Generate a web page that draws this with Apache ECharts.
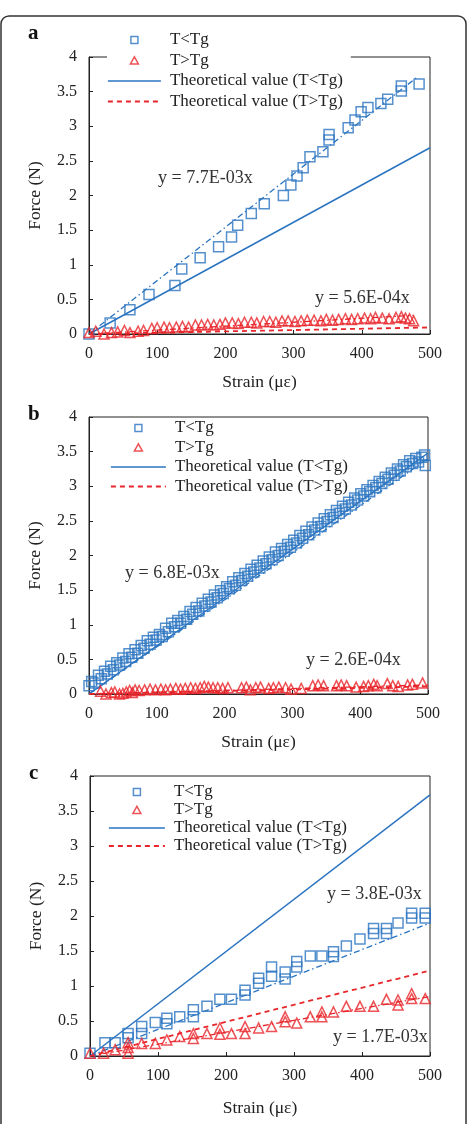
<!DOCTYPE html>
<html>
<head>
<meta charset="utf-8">
<script src="https://cdn.jsdelivr.net/npm/echarts@6/dist/echarts.min.js"></script>
<style>
  html, body { margin: 0; padding: 0; background: #fff; }
  #chart { width: 471px; height: 1124px; }
</style>
</head>
<body>
<div id="chart"></div>
<script>
// panel a
const aBelow = [[0,0],[31,0.16],[60,0.35],[88,0.57],[126,0.70],[136,0.94],[163,1.10],[190,1.26],[209,1.40],[218,1.57],[238,1.74],[257,1.88],[285,2.00],[296,2.15],[305,2.28],[314,2.40],[324,2.56],[343,2.63],[352,2.80],[352,2.88],[380,2.98],[390,3.09],[399,3.21],[409,3.27],[428,3.33],[438,3.39],[458,3.51],[458,3.58],[484,3.61]];
const aAbove = [[0,0.02],[10,0.04],[22,0.0],[33,0.02],[42,0.03],[52,0.05],[60,0.02],[72,0.04],[80,0.05],[92,0.08],[100,0.09],[110,0.10],[118,0.09],[128,0.10],[137,0.11],[146,0.10],[156,0.13],[165,0.13],[174,0.14],[183,0.13],[192,0.14],[200,0.16],[210,0.16],[219,0.15],[228,0.17],[238,0.17],[246,0.16],[256,0.18],[265,0.18],[274,0.17],[283,0.19],[292,0.19],[302,0.18],[311,0.19],[320,0.20],[330,0.20],[340,0.19],[348,0.21],[357,0.20],[366,0.21],[376,0.22],[385,0.21],[394,0.22],[404,0.23],[413,0.22],[420,0.24],[430,0.23],[440,0.22],[450,0.24],[458,0.25],[464,0.23],[470,0.22],[476,0.19]];
const aTheoBelow = [[0,0],[500,2.69]];
const aTheoAbove = [[0,0],[500,0.095]];
const aFitBelow = [[0,0],[480,3.70]];
const aFitAbove = [[0,0],[476,0.27]];

// panel b
const bBelow = [[0,0.12],[4,0.18],[9,0.16],[14,0.27],[18,0.22],[23,0.33],[27,0.29],[32,0.40],[36,0.35],[41,0.45],[45,0.42],[50,0.52],[54,0.47],[59,0.58],[63,0.53],[68,0.64],[72,0.59],[77,0.70],[81,0.66],[86,0.77],[90,0.72],[95,0.82],[99,0.78],[104,0.86],[108,0.83],[113,0.95],[117,0.90],[122,1.02],[126,0.97],[131,1.06],[135,1.02],[140,1.12],[144,1.08],[149,1.19],[153,1.15],[158,1.25],[162,1.20],[167,1.31],[171,1.27],[176,1.37],[180,1.33],[185,1.43],[189,1.39],[194,1.49],[198,1.45],[203,1.55],[207,1.52],[212,1.62],[216,1.57],[221,1.68],[225,1.64],[230,1.74],[234,1.70],[239,1.80],[243,1.76],[248,1.86],[252,1.82],[257,1.92],[261,1.88],[266,1.98],[270,1.94],[275,2.05],[279,2.00],[284,2.10],[288,2.06],[293,2.16],[297,2.12],[302,2.22],[306,2.18],[311,2.29],[315,2.25],[320,2.35],[324,2.30],[329,2.41],[333,2.37],[338,2.47],[342,2.42],[347,2.53],[351,2.49],[356,2.59],[360,2.55],[365,2.65],[369,2.61],[374,2.71],[378,2.67],[383,2.77],[387,2.73],[392,2.83],[396,2.80],[401,2.89],[405,2.86],[410,2.95],[414,2.92],[419,3.01],[423,2.98],[428,3.07],[432,3.04],[437,3.13],[441,3.10],[446,3.19],[450,3.16],[455,3.25],[459,3.22],[464,3.31],[468,3.28],[473,3.37],[477,3.33],[482,3.40],[486,3.35],[491,3.42],[495,3.45],[496,3.30]];
const bAbove = [[17,0.04],[25,0.0],[33,0.02],[38,0.03],[45,0.0],[50,0.01],[55,0.03],[60,0.05],[64,0.02],[68,0.06],[74,0.05],[82,0.06],[90,0.07],[98,0.06],[106,0.07],[113,0.06],[120,0.07],[128,0.08],[135,0.07],[142,0.08],[150,0.09],[157,0.08],[164,0.09],[170,0.11],[176,0.10],[183,0.09],[190,0.09],[197,0.08],[205,0.09],[225,0.09],[232,0.10],[238,0.06],[246,0.09],[253,0.10],[265,0.08],[272,0.09],[280,0.10],[290,0.09],[298,0.07],[313,0.08],[330,0.12],[338,0.13],[346,0.12],[365,0.12],[372,0.13],[380,0.12],[394,0.10],[405,0.11],[412,0.12],[420,0.14],[425,0.12],[440,0.15],[448,0.12],[456,0.11],[470,0.13],[477,0.14],[492,0.16]];
const bTheoBelow = [[0,0],[500,3.48]];
const bTheoAbove = [[0,0],[500,0.11]];
const bFitBelow = [[0,0],[500,3.40]];
const bFitAbove = [[0,0],[500,0.13]];

// panel c
const cBelow = [[0,0.04],[22,0.19],[37,0.19],[56,0.32],[56,0.26],[76,0.42],[76,0.32],[96,0.48],[113,0.54],[113,0.46],[132,0.56],[152,0.66],[152,0.56],[172,0.71],[191,0.81],[208,0.81],[228,0.94],[228,0.87],[248,1.11],[248,1.04],[267,1.27],[267,1.14],[287,1.20],[287,1.10],[304,1.35],[304,1.27],[324,1.43],[341,1.43],[358,1.49],[358,1.42],[377,1.57],[397,1.67],[417,1.82],[417,1.75],[436,1.82],[436,1.75],[453,1.90],[473,2.04],[473,1.97],[493,2.04],[493,1.97]];
const cAbove = [[0,0.04],[20,0.04],[37,0.09],[56,0.12],[56,0.19],[56,0.04],[76,0.18],[96,0.18],[113,0.23],[132,0.28],[152,0.25],[152,0.32],[172,0.32],[191,0.40],[191,0.31],[208,0.32],[228,0.42],[228,0.32],[248,0.40],[267,0.42],[287,0.56],[287,0.49],[304,0.47],[324,0.56],[341,0.63],[341,0.56],[358,0.63],[377,0.71],[397,0.71],[417,0.71],[436,0.81],[453,0.73],[453,0.80],[473,0.89],[473,0.82],[493,0.82]];
const cTheoBelow = [[0,0],[500,3.73]];
const cTheoAbove = [[0,0],[500,1.22]];
const cFitBelow = [[0,0],[500,1.90]];
const cFitAbove = [[0,0],[500,0.85]];

const xTicks = [0, 100, 200, 300, 400, 500];
const yTicks = [0, 0.5, 1, 1.5, 2, 2.5, 3, 3.5, 4];
const legendNames = ['T<Tg', 'T>Tg', 'Theoretical value (T<Tg)', 'Theoretical value (T>Tg)'];

const BLUE = '#2b74c0';
const RED = '#e8262b';
const INK = '#222';
const FONT = '"Liberation Serif", "DejaVu Serif", serif';

const panels = [
  { below: aBelow, above: aAbove, theoBelow: aTheoBelow, theoAbove: aTheoAbove, fitBelow: aFitBelow, fitAbove: aFitAbove },
  { below: bBelow, above: bAbove, theoBelow: bTheoBelow, theoAbove: bTheoAbove, fitBelow: bFitBelow, fitAbove: bFitAbove },
  { below: cBelow, above: cAbove, theoBelow: cTheoBelow, theoAbove: cTheoAbove, fitBelow: cFitBelow, fitAbove: cFitAbove }
];

const grids = [
  { left: 89, top: 57, width: 341, height: 277 },
  { left: 89, top: 417, width: 339, height: 277 },
  { left: 90, top: 776, width: 340, height: 280 }
];

const legendPos = [
  { left: 107, top: 29.5, itemWidth: 53, itemGap: 3.5, backgroundColor: '#fff', padding: [2, 8, 2, 0] },
  { left: 110, top: 419.5, itemWidth: 55, itemGap: 2.5, backgroundColor: 'transparent', padding: 0 },
  { left: 108, top: 783.5, itemWidth: 56, itemGap: 1, backgroundColor: 'transparent', padding: 0 }
];

const xNameGaps = [39, 39, 43];

const lineSeries = (name, data, idx, color, type, width) => ({
  name,
  type: 'line',
  data,
  xAxisIndex: idx,
  yAxisIndex: idx,
  symbol: 'none',
  showSymbol: false,
  silent: true,
  lineStyle: { color, width, type },
  itemStyle: { color: 'transparent', borderWidth: 0 },
  z: 2
});

const series = [];
panels.forEach((p, idx) => {
  series.push(lineSeries('Theoretical value (T<Tg)', p.theoBelow, idx, BLUE, 'solid', 1.5));
  series.push(lineSeries('Theoretical value (T>Tg)', p.theoAbove, idx, RED, [5, 4], 1.8));
  series.push(lineSeries('fitBelow' + idx, p.fitBelow, idx, BLUE, [6, 3, 1.5, 3], 1.3));
  series.push(lineSeries('fitAbove' + idx, p.fitAbove, idx, RED, [6, 3, 1.5, 3], 1.3));
  series.push({
    name: 'T<Tg', type: 'scatter', data: p.below, xAxisIndex: idx, yAxisIndex: idx,
    symbol: 'rect', symbolSize: 10, clip: false,
    itemStyle: { color: 'transparent', borderColor: BLUE, borderWidth: 1.5 }, z: 3
  });
  series.push({
    name: 'T>Tg', type: 'scatter', data: p.above, xAxisIndex: idx, yAxisIndex: idx,
    symbol: 'triangle', symbolSize: 10, clip: false,
    itemStyle: { color: 'transparent', borderColor: RED, borderWidth: 1.5 }, z: 3
  });
});

// legend icons: small marker centred in a box as wide as the line icons
const squareIcon = w => `path://M0,0M${w},8M${w / 2 - 3.5},0.5h7v7h-7z`;
const triangleIcon = w => `path://M0,0M${w},8M${w / 2},0.3L${w / 2 + 4},7.5L${w / 2 - 4},7.5z`;
const hiddenDot = { color: 'transparent', borderColor: 'transparent', borderWidth: 0, opacity: 0 };
const legendData = w => [
  { name: legendNames[0], icon: squareIcon(w), itemStyle: { color: 'transparent', borderColor: BLUE, borderWidth: 1.5 } },
  { name: legendNames[1], icon: triangleIcon(w), itemStyle: { color: 'transparent', borderColor: RED, borderWidth: 1.5 } },
  { name: legendNames[2], itemStyle: hiddenDot, lineStyle: { color: BLUE, width: 1.5, type: 'solid' } },
  { name: legendNames[3], itemStyle: hiddenDot, lineStyle: { color: RED, width: 1.8, type: [5, 4] } }
];

const textStyle = { fontFamily: FONT, fontSize: 16, color: INK };
const nameStyle = { fontFamily: FONT, fontSize: 17.5, color: INK };

const option = {
  animation: false,
  backgroundColor: '#fff',
  grid: grids.map(g => ({ ...g, show: true, borderColor: INK, borderWidth: 1, backgroundColor: 'transparent' })),
  xAxis: grids.map((g, idx) => ({
    type: 'value',
    gridIndex: idx,
    min: xTicks[0],
    max: xTicks[xTicks.length - 1],
    interval: xTicks[1] - xTicks[0],
    name: 'Strain (με)',
    nameLocation: 'middle',
    nameGap: xNameGaps[idx],
    nameTextStyle: nameStyle,
    axisLine: { show: true, onZero: false, lineStyle: { color: INK, width: 1 } },
    axisTick: { show: true, inside: true, length: 4, lineStyle: { color: INK } },
    axisLabel: { ...textStyle, margin: 12 },
    splitLine: { show: false }
  })),
  yAxis: grids.map((g, idx) => ({
    type: 'value',
    gridIndex: idx,
    min: yTicks[0],
    max: yTicks[yTicks.length - 1],
    interval: yTicks[1] - yTicks[0],
    name: 'Force (N)',
    nameLocation: 'middle',
    nameGap: 45,
    nameTextStyle: nameStyle,
    axisLine: { show: true, onZero: false, lineStyle: { color: INK, width: 1 } },
    axisTick: { show: true, inside: true, length: 4, lineStyle: { color: INK } },
    axisLabel: { ...textStyle, margin: 12 },
    splitLine: { show: false }
  })),
  legend: legendPos.map(l => ({
    orient: 'vertical',
    left: l.left,
    top: l.top,
    itemWidth: l.itemWidth,
    itemHeight: 8,
    itemGap: l.itemGap,
    padding: l.padding,
    backgroundColor: l.backgroundColor,
    selectedMode: false,
    textStyle: { fontFamily: FONT, fontSize: 17, color: INK, lineHeight: 17, padding: [0, 0, 0, 4] },
    data: legendData(l.itemWidth)
  })),
  graphic: [
    { type: 'rect', shape: { x: 1, y: 16, width: 465, height: 1140, r: 8 },
      style: { fill: 'none', stroke: '#333', lineWidth: 1.5 }, z: 10 },
    { type: 'text', left: 28, top: 23, style: { text: 'a', font: 'bold 21px ' + FONT, fill: '#111' } },
    { type: 'text', left: 28, top: 404, style: { text: 'b', font: 'bold 21px ' + FONT, fill: '#111' } },
    { type: 'text', left: 29, top: 763, style: { text: 'c', font: 'bold 21px ' + FONT, fill: '#111' } },
    { type: 'text', left: 158, top: 169, style: { text: 'y = 7.7E-03x', font: '18px ' + FONT, fill: '#333' } },
    { type: 'text', left: 315, top: 289, style: { text: 'y = 5.6E-04x', font: '18px ' + FONT, fill: '#333' } },
    { type: 'text', left: 125, top: 564, style: { text: 'y = 6.8E-03x', font: '18px ' + FONT, fill: '#333' } },
    { type: 'text', left: 306, top: 651, style: { text: 'y = 2.6E-04x', font: '18px ' + FONT, fill: '#333' } },
    { type: 'text', left: 327, top: 885, style: { text: 'y = 3.8E-03x', font: '18px ' + FONT, fill: '#333' } },
    { type: 'text', left: 333, top: 1028, style: { text: 'y = 1.7E-03x', font: '18px ' + FONT, fill: '#333' } }
  ],
  series
};

const chart = echarts.init(document.getElementById('chart'), null, { renderer: 'canvas' });
chart.setOption(option);
</script>
</body>
</html>
